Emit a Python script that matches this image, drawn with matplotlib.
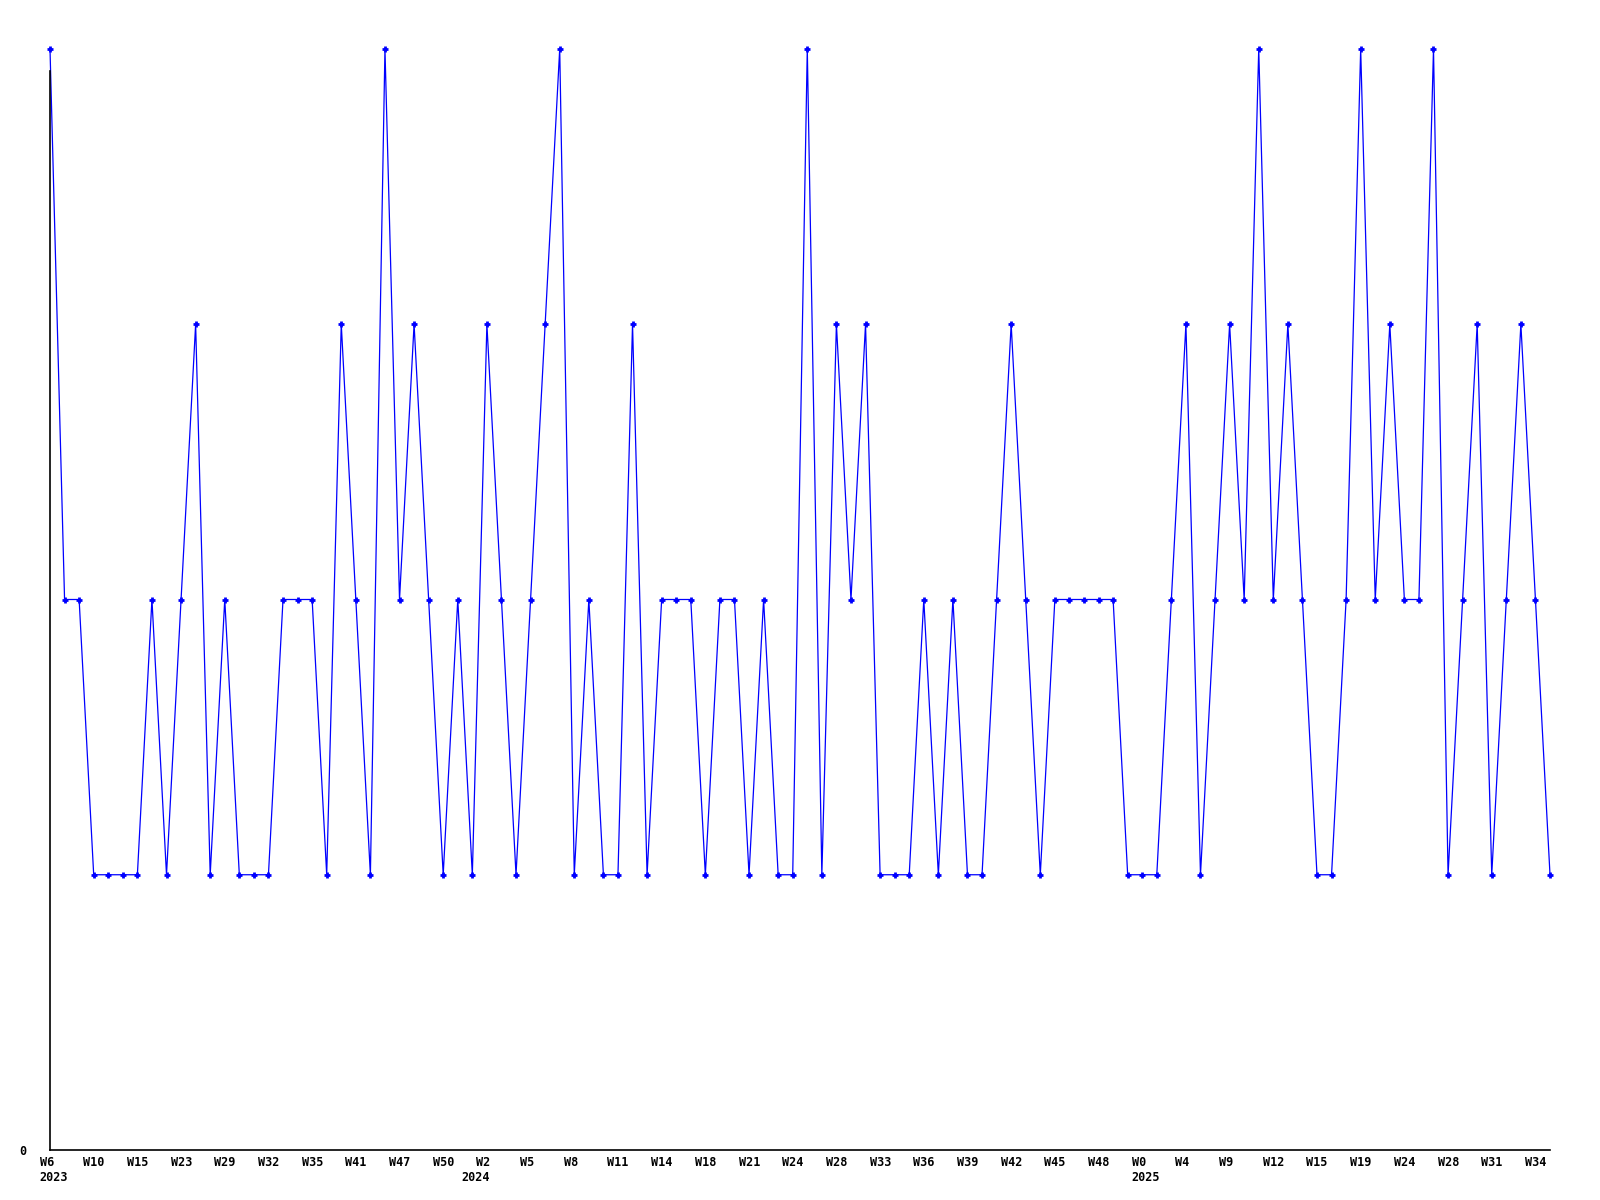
import matplotlib
import matplotlib.pyplot as plt
from matplotlib.transforms import ScaledTranslation, blended_transform_factory

matplotlib.use('Agg')

# one value per point (levels 1..4)
values = [
    4, 2, 2, 1, 1, 1, 1, 2, 1, 2, 3, 1, 2, 1, 1, 1, 2, 2, 2, 1,
    3, 2, 1, 4, 2, 3, 2, 1, 2, 1, 3, 2, 1, 2, 3, 4, 1, 2, 1, 1,
    3, 1, 2, 2, 2, 1, 2, 2, 1, 2, 1, 1, 4, 1, 3, 2, 3, 1, 1, 1,
    2, 1, 2, 1, 1, 2, 3, 2, 1, 2, 2, 2, 2, 2, 1, 1, 1, 2, 3, 1,
    2, 3, 2, 4, 2, 3, 2, 1, 1, 2, 4, 2, 3, 2, 2, 4, 1, 2, 3, 1,
    2, 3, 2, 1,
]

# every third point carries a week label
week_labels = [
    "W6", "W10", "W15", "W23", "W29", "W32", "W35", "W41", "W47", "W50",
    "W2", "W5", "W8", "W11", "W14", "W18", "W21", "W24", "W28", "W33",
    "W36", "W39", "W42", "W45", "W48", "W0", "W4", "W9", "W12", "W15",
    "W19", "W24", "W28", "W31", "W34",
]
# point index where each year starts
year_pos = [0, 29, 75]
year_labels = ["2023", "2024", "2025"]

fig = plt.figure(figsize=(16, 12), dpi=100)
ax = fig.add_axes([50 / 1600, 50 / 1200, 1500 / 1600, 1101 / 1200])

xs = list(range(len(values)))
ax.plot(xs, values, color='#0000ff', linewidth=0.9,
        marker='+', markersize=5, markeredgewidth=2, clip_on=False)

ax.set_xlim(0, len(values) - 1)
ax.set_ylim(0, 4)

for side in ['top', 'right']:
    ax.spines[side].set_visible(False)
ax.spines['left'].set_bounds(0, 3.92)
ax.spines['left'].set_linewidth(1.2)
ax.spines['bottom'].set_linewidth(1.2)

font = dict(family='DejaVu Sans Mono', weight='bold', size=8.5)

ax.set_yticks([0])
ax.set_yticklabels(["0"], **font)
ax.tick_params(axis='y', length=0, pad=17)

ax.set_xticks(xs[::3])
ax.set_xticklabels(week_labels, **font)
ax.tick_params(axis='x', length=0, pad=4)

shift = ScaledTranslation(-10.5 / 100, 0, fig.dpi_scale_trans)
for lbl in ax.get_xticklabels():
    lbl.set_horizontalalignment('left')
    lbl.set_transform(lbl.get_transform() + shift)

# years go on a second row under the ticks
trans = blended_transform_factory(ax.transData, ax.transAxes)
trans = trans + ScaledTranslation(-10.5 / 100, -27.5 / 100, fig.dpi_scale_trans)
for pos, yr in zip(year_pos, year_labels):
    ax.text(xs[pos], 0, yr, transform=trans, ha='left', va='center', **font)

plt.savefig("out.png")
